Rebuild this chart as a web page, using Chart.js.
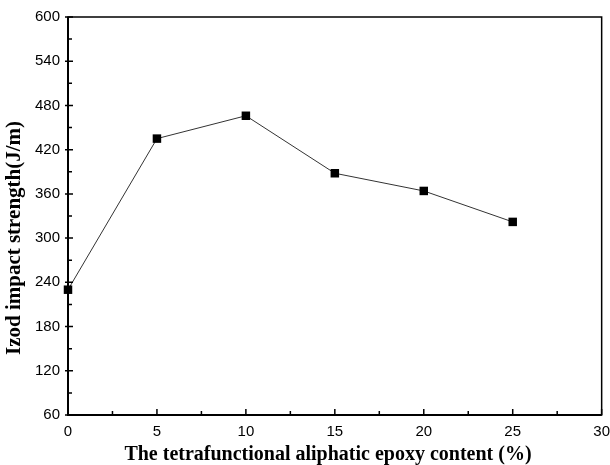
<!DOCTYPE html>
<html>
<head>
<meta charset="utf-8">
<script src="https://cdn.jsdelivr.net/npm/chart.js@4.4.1/dist/chart.umd.min.js"></script>
<style>
html,body{margin:0;padding:0;background:#fff;}
#wrap{width:610px;height:465px;position:relative;}
</style>
</head>
<body>
<div id="wrap"><canvas id="c" width="610" height="465"></canvas></div>
<script>
const contentPct = [0, 5, 10, 15, 20, 25];
const izodStrength = [230, 435, 466, 388, 364, 322];
const xTicks = [0, 5, 10, 15, 20, 25, 30];
const yTicks = [60, 120, 180, 240, 300, 360, 420, 480, 540, 600];
const xTitle = 'The tetrafunctional aliphatic epoxy content (%)';
const yTitle = 'Izod impact strength(J/m)';

const frameTicks = {
  id: 'frameTicks',
  afterDatasetsDraw(chart) {
    const ctx = chart.ctx, a = chart.chartArea;
    const xs = chart.scales.x, ys = chart.scales.y;
    ctx.save();
    ctx.strokeStyle = '#000';
    ctx.lineWidth = 1.5;
    ctx.strokeRect(a.left, a.top, a.right - a.left, a.bottom - a.top);
    ctx.lineWidth = 2;
    ctx.beginPath();
    ctx.moveTo(a.left, a.top); ctx.lineTo(a.left, a.bottom); ctx.lineTo(a.right, a.bottom);
    ctx.stroke();
    ctx.lineWidth = 1.5;
    ctx.beginPath();
    for (let i = 0; i < xTicks.length; i++) {
      const px = xs.getPixelForValue(xTicks[i]);
      ctx.moveTo(px, a.bottom); ctx.lineTo(px, a.bottom - 6);
      if (i < xTicks.length - 1) {
        const mx = xs.getPixelForValue((xTicks[i] + xTicks[i + 1]) / 2);
        ctx.moveTo(mx, a.bottom); ctx.lineTo(mx, a.bottom - 4);
      }
    }
    for (let i = 0; i < yTicks.length; i++) {
      const py = ys.getPixelForValue(yTicks[i]);
      ctx.moveTo(a.left - 3, py); ctx.lineTo(a.left + 5, py);
      if (i < yTicks.length - 1) {
        const my = ys.getPixelForValue((yTicks[i] + yTicks[i + 1]) / 2);
        ctx.moveTo(a.left, my); ctx.lineTo(a.left + 4, my);
      }
    }
    ctx.stroke();
    // axis titles
    ctx.fillStyle = '#000';
    ctx.textAlign = 'center';
    ctx.textBaseline = 'middle';
    ctx.font = 'bold 20px "Liberation Serif"';
    ctx.fillText(xTitle, 328, 455);
    ctx.translate(15, 238);
    ctx.rotate(-Math.PI / 2);
    ctx.font = 'bold 21px "Liberation Serif"';
    ctx.fillText(yTitle, 0, 0);
    ctx.restore();
  }
};

new Chart(document.getElementById('c'), {
  type: 'scatter',
  data: {
    datasets: [{
      data: contentPct.map((x, i) => ({ x: x, y: izodStrength[i] })),
      showLine: true,
      borderColor: '#333',
      borderWidth: 1,
      pointStyle: 'rect',
      pointRadius: 6,
      pointHoverRadius: 6,
      pointBackgroundColor: '#000',
      pointBorderColor: '#000',
      pointBorderWidth: 0,
      clip: false
    }]
  },
  options: {
    responsive: false,
    animation: false,
    devicePixelRatio: 1,
    layout: { padding: { left: 0, right: 5, top: 17, bottom: 3 } },
    plugins: { legend: { display: false }, tooltip: { enabled: false } },
    scales: {
      x: {
        type: 'linear', min: 0, max: 30,
        afterBuildTicks: s => { s.ticks = xTicks.map(v => ({ value: v })); },
        afterFit: s => { s.height = 47; },
        grid: { display: false },
        border: { display: false },
        ticks: { color: '#000', padding: 0, maxRotation: 0, font: { family: 'Liberation Sans', size: 15 } },
        title: { display: false }
      },
      y: {
        type: 'linear', min: 60, max: 600,
        afterBuildTicks: s => { s.ticks = yTicks.map(v => ({ value: v })); },
        afterFit: s => { s.width = 68; },
        grid: { display: false },
        border: { display: false },
        ticks: { color: '#000', padding: 0, font: { family: 'Liberation Sans', size: 15 } },
        title: { display: false }
      }
    }
  },
  plugins: [frameTicks]
});
</script>
</body>
</html>
